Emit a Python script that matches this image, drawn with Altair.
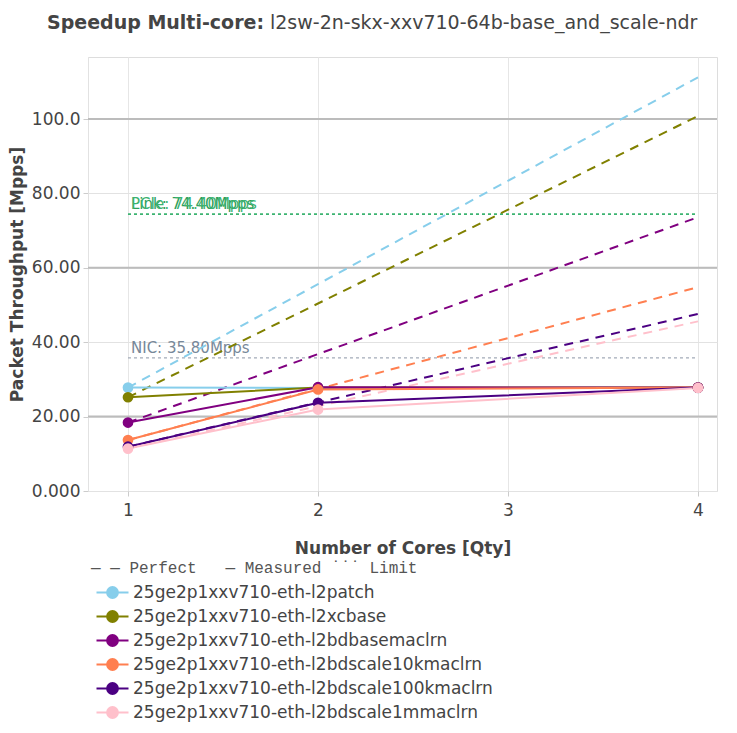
import altair as alt
import pandas as pd

# ---- data ----
series = [
    "25ge2p1xxv710-eth-l2patch",
    "25ge2p1xxv710-eth-l2xcbase",
    "25ge2p1xxv710-eth-l2bdbasemaclrn",
    "25ge2p1xxv710-eth-l2bdscale10kmaclrn",
    "25ge2p1xxv710-eth-l2bdscale100kmaclrn",
    "25ge2p1xxv710-eth-l2bdscale1mmaclrn",
]
colors = ["#87CEEB", "#808000", "#800080", "#FF7F50", "#4B0082", "#FFC0CB"]
cores = [1, 2, 4]
measured = [
    [27.8, 27.7, 27.7],
    [25.2, 27.8, 27.8],
    [18.4, 27.9, 27.8],
    [13.7, 27.3, 27.8],
    [11.9, 23.7, 27.8],
    [11.4, 21.9, 27.7],
]
perfect = [
    [27.8, 55.6, 111.2],
    [25.2, 50.4, 100.8],
    [18.4, 36.8, 73.6],
    [13.7, 27.4, 54.8],
    [11.9, 23.8, 47.6],
    [11.4, 22.8, 45.6],
]
limit_names = ["NIC: 35.80Mpps", "Link: 74.40Mpps", "PCIe: 74.40Mpps"]
limit_values = [35.8, 74.4, 74.4]
limit_colors = ["#A3ABB8", "#3CB371", "#3CB371"]
limit_text_colors = ["#778899", "#2E9E5B", "#3CB371"]
limit_span = [1, 4]
x_ticks = [1, 2, 3, 4]
y_ticks = [0, 20, 40, 60, 80, 100]
y_dark = [20, 60, 100]
title_bold = "Speedup Multi-core:"
title_rest = "l2sw-2n-skx-xxv710-64b-base_and_scale-ndr"
NB = "\u00a0"
style_legend = ("—" + NB + "—" + NB + "Perfect" + NB * 3 + "—" + NB + "Measured"
                + NB + "˙˙˙" + NB + "Limit")

# ---- tables ----
rows_m, rows_p = [], []
for s, m, p in zip(series, measured, perfect):
    for c, vm, vp in zip(cores, m, p):
        rows_m.append({"series": s, "cores": c, "value": vm})
        rows_p.append({"series": s, "cores": c, "value": vp})
df_m = pd.DataFrame(rows_m)
df_p = pd.DataFrame(rows_p)
df_lim = pd.DataFrame({
    "name": limit_names, "value": limit_values,
    "cores": [limit_span[0]] * 3, "cores_end": [limit_span[1]] * 3,
    "lc": limit_colors, "tc": limit_text_colors,
})
df_dark = pd.DataFrame({"value": y_dark})

FONT = "DejaVu Sans"
X = alt.X("cores:Q",
          scale=alt.Scale(domain=[0.7895, 4.1], nice=False, zero=False),
          axis=alt.Axis(values=x_ticks, format="d", title="Number of Cores [Qty]",
                        grid=True, gridColor="#e6e6e6", gridWidth=1,
                        domain=False, tickColor="#cccccc", tickSize=5,
                        labelFontSize=17, labelColor="#444444", labelFont=FONT,
                        labelPadding=6, titleFont=FONT, titleFontSize=17,
                        titleFontWeight="bold", titleColor="#444444", titlePadding=22))
Y = alt.Y("value:Q",
          scale=alt.Scale(domain=[0, 116.67], nice=False, zero=True),
          axis=alt.Axis(values=y_ticks,
                        labelExpr="datum.value == 0 ? format(0, '.3f') : format(datum.value, '.4r')",
                        title="Packet Throughput [Mpps]",
                        grid=True, gridColor="#e2e2e2", gridWidth=1,
                        domain=True, domainColor="#e2e2e2",
                        tickColor="#cccccc", tickSize=5,
                        labelFontSize=17, labelColor="#444444", labelFont=FONT,
                        labelPadding=3, titleFont=FONT, titleFontSize=17,
                        titleFontWeight="bold", titleColor="#444444", titlePadding=5))

sym_path = ("M-1.6,0L-0.53,0M0.53,0L1.6,0"
            "M0.53,0A0.53,0.53,0,1,1,-0.53,0A0.53,0.53,0,1,1,0.53,0Z")
legend = alt.Legend(
    orient="none", legendX=3, legendY=503, direction="vertical",
    title=style_legend,
    titleFont="Liberation Mono", titleFontSize=16, titleFontWeight="normal",
    titleColor="#555555", titlePadding=5, titleLimit=600,
    labelFont=FONT, labelFontSize=17, labelColor="#444444", labelLimit=600,
    symbolType=sym_path, symbolSize=400, symbolStrokeWidth=2.2, symbolOpacity=1,
    symbolOffset=10, labelOffset=9, rowPadding=2, padding=0,
)
S = alt.Stroke("series:N", scale=alt.Scale(domain=series, range=colors), legend=legend)
F = alt.Fill("series:N", scale=alt.Scale(domain=series, range=colors), legend=legend)

dark_grid = alt.Chart(df_dark).mark_rule(color="#bcbcbc", strokeWidth=2).encode(y=Y)

lim_lines = alt.Chart(df_lim).mark_rule(strokeWidth=1.3, strokeDash=[3, 3]).encode(
    x=X, x2="cores_end:Q", y=Y, color=alt.Color("lc:N", scale=None))
lim_text = alt.Chart(df_lim).mark_text(
    align="left", baseline="bottom", dx=3, dy=-2, font=FONT, fontSize=15).encode(
    x=X, y=Y, text="name:N", color=alt.Color("tc:N", scale=None))

perf = alt.Chart(df_p).mark_line(strokeWidth=2, strokeDash=[9, 7]).encode(
    x=X, y=Y, stroke=S, detail="series:N")
meas = alt.Chart(df_m).mark_line(strokeWidth=2).encode(x=X, y=Y, stroke=S)
pts = alt.Chart(df_m).mark_circle(size=115, opacity=1, strokeWidth=0).encode(
    x=X, y=Y, fill=F, stroke=S)

one = alt.Data(values=[{}])
t1 = alt.Chart(one).mark_text(align="right", baseline="middle", font=FONT, fontSize=19,
                              fontWeight="bold", color="#444444").encode(
    x=alt.value(176), y=alt.value(-34), text=alt.value(title_bold))
t2 = alt.Chart(one).mark_text(align="left", baseline="middle", font=FONT, fontSize=19,
                              color="#444444").encode(
    x=alt.value(182), y=alt.value(-34), text=alt.value(title_rest))

chart = alt.layer(dark_grid, lim_lines, lim_text, perf, meas, pts, t1, t2).properties(
    width=629, height=434,
    autosize=alt.AutoSizeParams(type="none"),
    padding={"left": 80, "top": 49, "right": 12, "bottom": 234},
).configure_view(stroke=None).configure(background="white")

chart.save("out.html", embed_options={"renderer": "svg", "actions": False})
